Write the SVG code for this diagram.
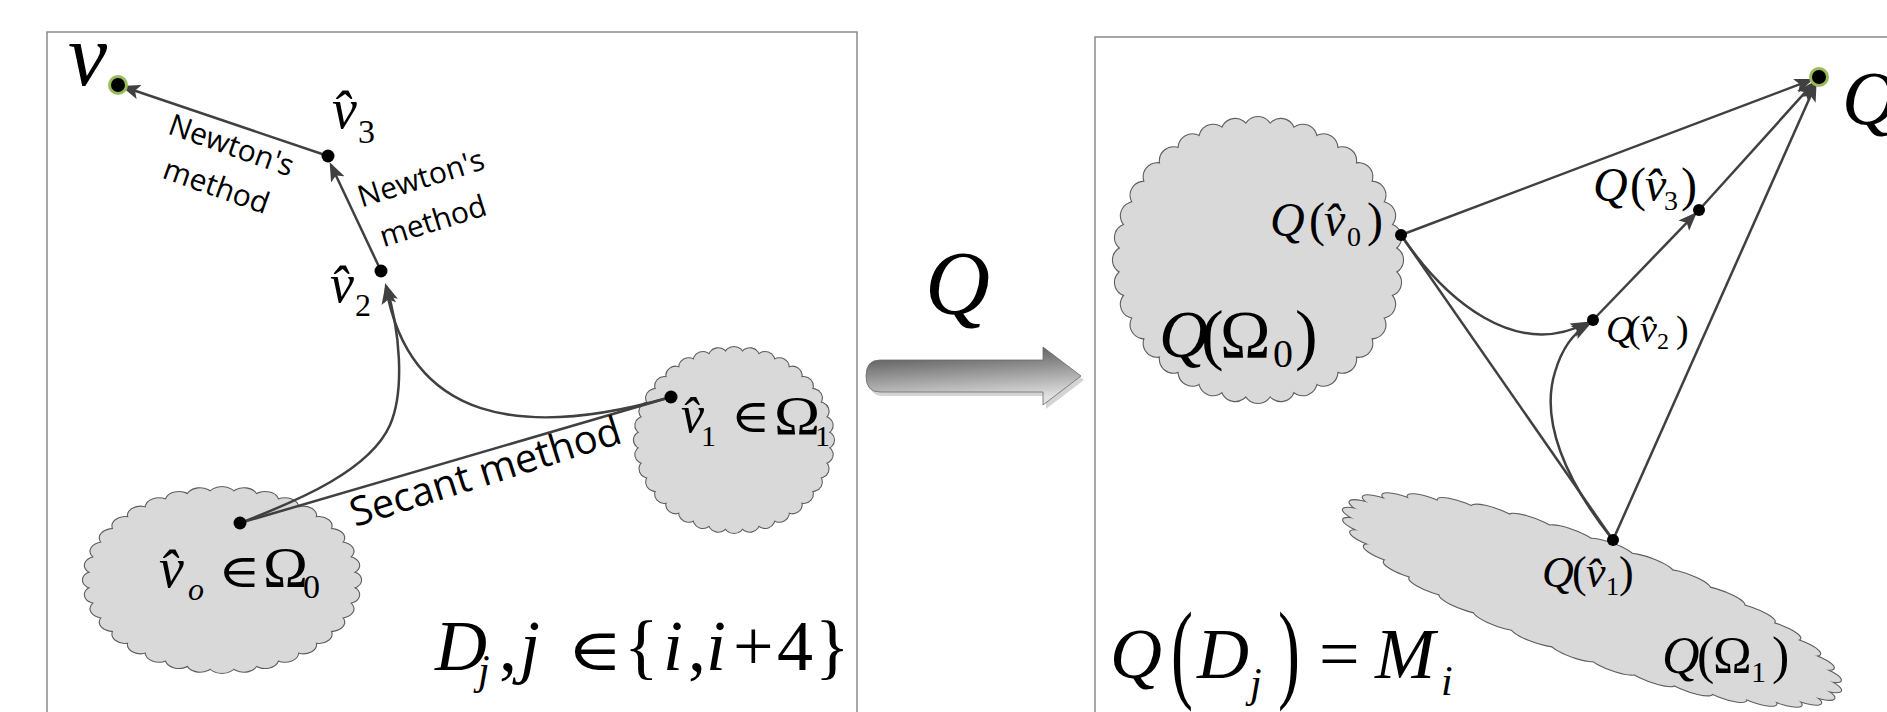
<svg xmlns="http://www.w3.org/2000/svg" xmlns:xlink="http://www.w3.org/1999/xlink" width="1887" height="712" viewBox="0 0 1887 712">
<style>
.frame{fill:none;stroke:#8a8a8a;stroke-width:1.5}
.con{fill:none;stroke:#404040;stroke-width:2.5}
.arr{marker-end:url(#ah)}
.dot{fill:#000}
.goal{fill:#000;stroke:#9bbb59;stroke-width:3}
.bump{vector-effect:non-scaling-stroke}
.m{font-family:"Liberation Serif",serif;font-style:italic;fill:#000}
.u{font-family:"Liberation Serif",serif;font-style:normal;fill:#000}
.e{font-family:"Liberation Serif","DejaVu Serif",serif;font-style:normal;fill:#000}
.s{font-family:"Open Sans",sans-serif;fill:#000}
</style>
<defs>
<marker id="ah" viewBox="0 0 18 14" refX="15" refY="7" markerWidth="19" markerHeight="15" markerUnits="userSpaceOnUse" orient="auto"><path d="M0,0 L18,7 L0,14 L4,7 Z" fill="#404040"/></marker>
<linearGradient id="ag" x1="0" y1="0" x2="0.25" y2="1"><stop offset="0" stop-color="#444"/><stop offset="1" stop-color="#e0e0e0"/></linearGradient>
<circle id="b" class="bump" cx="0" cy="-90.5" r="9.5"/>
<g id="bumps">
<use href="#b"/><use href="#b" transform="rotate(10)"/><use href="#b" transform="rotate(20)"/><use href="#b" transform="rotate(30)"/><use href="#b" transform="rotate(40)"/><use href="#b" transform="rotate(50)"/><use href="#b" transform="rotate(60)"/><use href="#b" transform="rotate(70)"/><use href="#b" transform="rotate(80)"/>
<use href="#b" transform="rotate(90)"/><use href="#b" transform="rotate(100)"/><use href="#b" transform="rotate(110)"/><use href="#b" transform="rotate(120)"/><use href="#b" transform="rotate(130)"/><use href="#b" transform="rotate(140)"/><use href="#b" transform="rotate(150)"/><use href="#b" transform="rotate(160)"/><use href="#b" transform="rotate(170)"/>
<use href="#b" transform="rotate(180)"/><use href="#b" transform="rotate(190)"/><use href="#b" transform="rotate(200)"/><use href="#b" transform="rotate(210)"/><use href="#b" transform="rotate(220)"/><use href="#b" transform="rotate(230)"/><use href="#b" transform="rotate(240)"/><use href="#b" transform="rotate(250)"/><use href="#b" transform="rotate(260)"/>
<use href="#b" transform="rotate(270)"/><use href="#b" transform="rotate(280)"/><use href="#b" transform="rotate(290)"/><use href="#b" transform="rotate(300)"/><use href="#b" transform="rotate(310)"/><use href="#b" transform="rotate(320)"/><use href="#b" transform="rotate(330)"/><use href="#b" transform="rotate(340)"/><use href="#b" transform="rotate(350)"/>
</g>
<g id="cloud">
<use href="#bumps" fill="#d9d9d9" stroke="#5e5e5e" stroke-width="2.2"/>
<use href="#bumps" fill="#d9d9d9"/>
<circle r="91" fill="#d9d9d9"/>
</g>
</defs>
<rect width="1887" height="712" fill="#fff"/>
<rect class="frame" x="47" y="32" width="810" height="700"/>
<rect class="frame" x="1095" y="37" width="820" height="700"/>

<g id="cloud-omega0"><use href="#cloud" transform="translate(222,580) scale(1.39,0.93)"/></g>
<g id="cloud-omega1"><use href="#cloud" transform="translate(734,440) scale(1.0,0.93)"/></g>
<g id="cloud-q-omega0"><use href="#cloud" transform="translate(1258,260) scale(1.45,1.43)"/></g>
<g id="cloud-q-omega1"><use href="#cloud" transform="translate(1592,600) rotate(20) scale(2.65,0.6)"/></g>

<g id="map-arrow">
<path d="M880,360 L1043,360 L1043,347 L1081,376 L1043,405 L1043,392 L880,392 Q866,392 866,376 Q866,360 880,360 Z" fill="#d4d4d4" transform="translate(3,4)"/>
<path d="M880,360 L1043,360 L1043,347 L1081,376 L1043,405 L1043,392 L880,392 Q866,392 866,376 Q866,360 880,360 Z" fill="url(#ag)" stroke="#6a6a6a" stroke-width="0.8"/>
<text class="m" x="925" y="314" font-size="90">Q</text>
</g>

<g id="connectors">
<path class="con arr" d="M328,156 L124,87"/>
<path class="con arr" d="M381,271 L331,165"/>
<path class="con arr" d="M240,523 C300,500 370,470 390,425 C405,390 400,330 386,286"/>
<path class="con arr" d="M671,397 C520,440 410,420 386,288"/>
<path class="con" d="M240,523 L671,397"/>
<path class="con arr" d="M1401,235 L1810.6,80.2"/>
<path class="con arr" d="M1699,210 L1813,83.7"/>
<path class="con arr" d="M1613,540 L1815.3,85.2"/>
<path class="con arr" d="M1593,320 L1694.8,214.3"/>
<path class="con arr" d="M1401,235 C1445,300 1515,360 1587,323"/>
<path class="con arr" d="M1613,540 C1565,480 1540,420 1555,372 C1563,345 1575,332 1588,325"/>
<path class="con" d="M1401,235 L1613,540"/>
</g>

<g id="edge-labels">
<text class="s" font-size="30" text-anchor="middle" transform="translate(228,155) rotate(19.5)">Newton's</text>
<text class="s" font-size="30" text-anchor="middle" transform="translate(213,196) rotate(19.5)">method</text>
<text class="s" font-size="30" text-anchor="middle" transform="translate(424,188) rotate(-17.3)">Newton's</text>
<text class="s" font-size="30" text-anchor="middle" transform="translate(436,231) rotate(-17.3)">method</text>
<text class="s" font-size="40" transform="translate(355,527) rotate(-17.5)">Secant method</text>
</g>

<g id="n-v"><circle class="goal" cx="118" cy="85" r="8.5"/><text class="m" x="68" y="85" font-size="88">v</text></g>
<g id="n-v3"><circle class="dot" cx="328" cy="156" r="6.5"/><text class="m" x="332" y="128" font-size="56">v&#x302;</text><text class="u" x="358" y="143" font-size="34">3</text></g>
<g id="n-v2"><circle class="dot" cx="381" cy="271" r="6.5"/><text class="m" x="330" y="302" font-size="54">v&#x302;</text><text class="u" x="355" y="316" font-size="32">2</text></g>
<g id="n-v0"><circle class="dot" cx="240" cy="523" r="6.5"/>
<text class="m" x="159" y="587" font-size="56">v&#x302;</text><text class="m" x="188" y="600" font-size="32">o</text><text class="e" font-size="46" transform="translate(218,587) scale(1.25,1)">∈</text><text class="u" font-size="56" transform="translate(263,587) scale(1.08,1)">Ω</text><text class="u" x="303" y="598" font-size="34">0</text></g>
<g id="n-v1"><circle class="dot" cx="671" cy="397" r="6.5"/>
<text class="m" x="681" y="432" font-size="52">v&#x302;</text><text class="u" x="701" y="446" font-size="30">1</text><text class="e" font-size="46" transform="translate(731,432) scale(1.15,1)">∈</text><text class="u" font-size="54" transform="translate(774,434) scale(1.15,1)">Ω</text><text class="u" x="815" y="446" font-size="30">1</text></g>

<g id="label-domain">
<text class="m" x="435" y="670" font-size="72">D</text><text class="m" x="478" y="684" font-size="42">j</text><text class="u" x="499" y="670" font-size="72">,</text><text class="m" x="520" y="670" font-size="72">j</text><text class="e" font-size="58" transform="translate(567,670) scale(1.3,1)">∈</text><text class="u" x="624" y="670" font-size="72">{</text><text class="m" x="663" y="670" font-size="72">i</text><text class="u" x="688" y="670" font-size="72">,</text><text class="m" x="706" y="670" font-size="72">i</text><text class="u" x="733" y="670" font-size="72">+</text><text class="u" x="777" y="670" font-size="72">4</text><text class="u" x="815" y="670" font-size="72">}</text>
</g>

<g id="n-qf"><circle class="goal" cx="1819" cy="77" r="8.5"/><text class="m" x="1842" y="124" font-size="76">Q</text></g>
<g id="n-q0"><circle class="dot" cx="1401" cy="235" r="6"/>
<text class="m" x="1270" y="236" font-size="48">Q</text><text class="u" x="1309" y="236" font-size="48">(</text><text class="m" x="1324" y="236" font-size="48">v&#x302;</text><text class="u" x="1347" y="246" font-size="28">0</text><text class="u" x="1367" y="236" font-size="48">)</text></g>
<g id="n-q3"><circle class="dot" cx="1699" cy="210" r="6"/>
<text class="m" x="1593" y="201" font-size="48">Q</text><text class="u" x="1630" y="201" font-size="48">(</text><text class="m" x="1645" y="201" font-size="48">v&#x302;</text><text class="u" x="1664" y="210" font-size="28">3</text><text class="u" x="1681" y="201" font-size="48">)</text></g>
<g id="n-q2"><circle class="dot" cx="1593" cy="320" r="6"/>
<text class="m" x="1606" y="342" font-size="38">Q</text><text class="u" x="1628" y="342" font-size="38">(</text><text class="m" x="1640" y="342" font-size="38">v&#x302;</text><text class="u" x="1657" y="349" font-size="24">2</text><text class="u" x="1676" y="342" font-size="38">)</text></g>
<g id="n-q1"><circle class="dot" cx="1613" cy="540" r="6"/>
<text class="m" x="1542" y="587" font-size="44">Q</text><text class="u" x="1572" y="587" font-size="44">(</text><text class="m" x="1586" y="587" font-size="44">v&#x302;</text><text class="u" x="1606" y="595" font-size="26">1</text><text class="u" x="1619" y="587" font-size="44">)</text></g>

<g id="label-q-omega0">
<text class="m" x="1159" y="357" font-size="68">Q</text><text class="u" x="1201" y="357" font-size="68">(</text><text class="u" x="1220" y="357" font-size="68">Ω</text><text class="u" x="1273" y="367" font-size="40">0</text><text class="u" x="1295" y="357" font-size="68">)</text>
</g>
<g id="label-q-omega1">
<text class="m" x="1662" y="673" font-size="52">Q</text><text class="u" x="1697" y="673" font-size="52">(</text><text class="u" x="1713" y="673" font-size="52">Ω</text><text class="u" x="1751" y="682" font-size="30">1</text><text class="u" x="1772" y="673" font-size="52">)</text>
</g>
<g id="label-image">
<text class="m" x="1110" y="678" font-size="72">Q</text>
<text class="u" font-size="110" transform="translate(1171,688) scale(0.6,1)">(</text>
<text class="m" x="1197" y="678" font-size="72">D</text><text class="m" x="1250" y="697" font-size="42">j</text>
<text class="u" font-size="110" transform="translate(1278,688) scale(0.6,1)">)</text>
<text class="u" x="1319" y="678" font-size="72">=</text>
<text class="m" x="1375" y="678" font-size="72">M</text><text class="m" x="1441" y="695" font-size="42">i</text>
</g>
</svg>
